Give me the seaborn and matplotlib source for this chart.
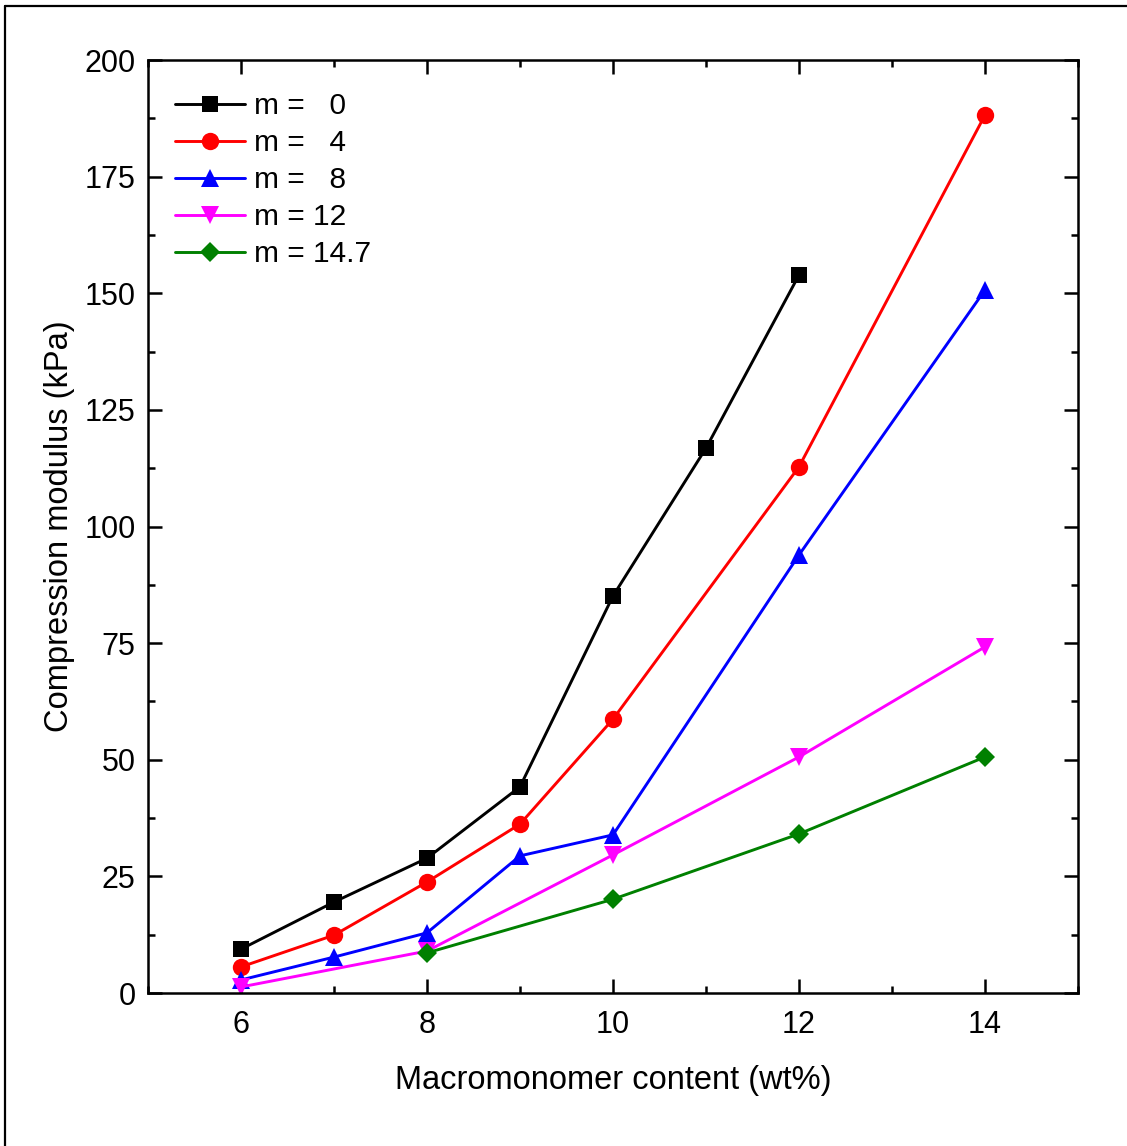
import pandas as pd
import seaborn as sns
from matplotlib import pyplot as plt
from matplotlib.lines import Line2D
from matplotlib.ticker import MultipleLocator

# data
x_m0 = [6, 7, 8, 9, 10, 11, 12]
y_m0 = [9.4, 19.5, 28.9, 44.2, 85.1, 116.8, 153.9]

x_m4 = [6, 7, 8, 9, 10, 12, 14]
y_m4 = [5.6, 12.4, 23.8, 36.2, 58.7, 112.8, 188.2]

x_m8 = [6, 7, 8, 9, 10, 12, 14]
y_m8 = [2.8, 7.7, 12.9, 29.4, 33.9, 93.9, 150.7]

x_m12 = [6, 8, 10, 12, 14]
y_m12 = [1.3, 9.0, 29.6, 50.6, 74.2]

x_m147 = [8, 10, 12, 14]
y_m147 = [8.6, 20.1, 34.1, 50.6]

labels = ["m =   0", "m =   4", "m =   8", "m = 12", "m = 14.7"]
colors = ["black", "#ff0000", "#0000ff", "#ff00ff", "#008000"]
markers = ["s", "o", "^", "v", "D"]
sizes = [12, 12.5, 13, 13, 10.5]

series = [(x_m0, y_m0), (x_m4, y_m4), (x_m8, y_m8), (x_m12, y_m12), (x_m147, y_m147)]

sns.set_style("ticks", {"axes.edgecolor": "black", "text.color": "black",
                        "axes.labelcolor": "black", "xtick.color": "black",
                        "ytick.color": "black"})
plt.rcParams['font.family'] = ['Liberation Sans', 'DejaVu Sans']
plt.rcParams['xtick.direction'] = 'in'
plt.rcParams['ytick.direction'] = 'in'

fig = plt.figure(figsize=(11.27, 11.46), dpi=100)
ax = fig.add_axes([0.1313, 0.1335, 0.8252, 0.8141])

for (xs, ys), lab, c, mk, ms in zip(series, labels, colors, markers, sizes):
    df = pd.DataFrame({"x": xs, "y": ys})
    sns.lineplot(data=df, x="x", y="y", ax=ax, color=c, marker=mk,
                 markersize=ms, markeredgewidth=0, linewidth=2.1, label=lab)

ax.set_xlim(5, 15)
ax.set_ylim(0, 200)
ax.xaxis.set_major_locator(MultipleLocator(2))
ax.xaxis.set_minor_locator(MultipleLocator(1))
ax.yaxis.set_major_locator(MultipleLocator(25))
ax.yaxis.set_minor_locator(MultipleLocator(12.5))
ax.set_xticks([6, 8, 10, 12, 14])
ax.tick_params(which='both', top=True, right=True, width=1.8, labelsize=22)
ax.tick_params(which='major', length=10)
ax.tick_params(which='minor', length=5)
ax.tick_params(axis='x', pad=12)
ax.tick_params(axis='y', pad=9)
for sp in ax.spines.values():
    sp.set_linewidth(1.8)

ax.set_xlabel("Macromonomer content (wt%)", fontsize=23.5, labelpad=18)
ax.set_ylabel("Compression modulus (kPa)", fontsize=23.5, labelpad=7)

ax.legend(loc='upper left', bbox_to_anchor=(0.029, 0.9655), frameon=False,
          fontsize=21.5, handlelength=2.35, handletextpad=0.3, labelspacing=0.3,
          borderpad=0, borderaxespad=0)

# figure frame (top and left edges)
fig.add_artist(Line2D([0.004, 1.0], [1 - 6 / 1146, 1 - 6 / 1146], transform=fig.transFigure,
                      color='black', linewidth=1.6))
fig.add_artist(Line2D([0.004, 0.004], [0.0, 1 - 6 / 1146], transform=fig.transFigure,
                      color='black', linewidth=1.6))

fig.savefig("out.png", dpi=100)
